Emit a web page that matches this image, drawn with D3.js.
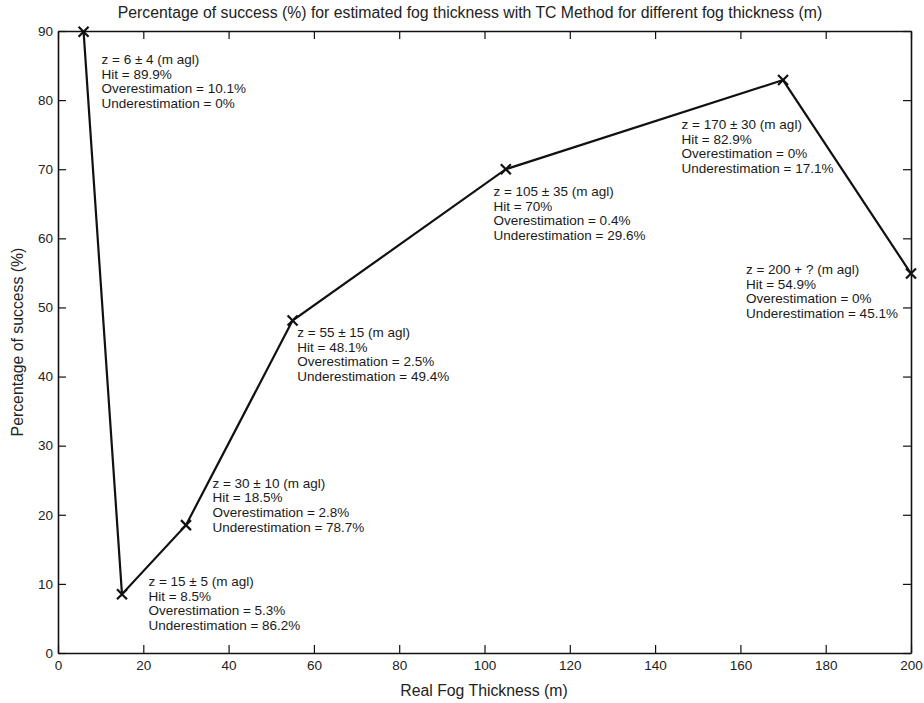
<!DOCTYPE html>
<html><head><meta charset="utf-8">
<script src="https://cdn.jsdelivr.net/npm/d3@7"></script>
<style>body{margin:0;background:#fff}svg{display:block;font-family:"Liberation Sans",Arial,sans-serif}</style>
</head><body><svg id="c" width="924" height="703"></svg>
<script>
const thickness = [6, 15, 30, 55, 105, 170, 200];
const success = [89.9, 8.5, 18.5, 48.1, 70, 82.9, 54.9];
const zLabels = ["z = 6 \u00b1 4 (m agl)", "z = 15 \u00b1 5 (m agl)", "z = 30 \u00b1 10 (m agl)", "z = 55 \u00b1 15 (m agl)", "z = 105 \u00b1 35 (m agl)", "z = 170 \u00b1 30 (m agl)", "z = 200 + ? (m agl)"];
const hit = ["89.9%", "8.5%", "18.5%", "48.1%", "70%", "82.9%", "54.9%"];
const over = ["10.1%", "5.3%", "2.8%", "2.5%", "0.4%", "0%", "0%"];
const under = ["0%", "86.2%", "78.7%", "49.4%", "29.6%", "17.1%", "45.1%"];
const labelX = [10.2, 21.2, 36.2, 56.1, 102.1, 146.2, 161.3];
const labelY = [85.2, 9.7, 23.9, 45.7, 66.1, 75.8, 54.8];
const xTicks = [0, 20, 40, 60, 80, 100, 120, 140, 160, 180, 200];
const yTicks = [0, 10, 20, 30, 40, 50, 60, 70, 80, 90];

const svg = d3.select("#c");
const L = 58, R = 911, T = 31, B = 653;
const x = d3.scaleLinear().domain([0, 200]).range([L, R]);
const y = d3.scaleLinear().domain([0, 90]).range([B, T]);
const tl = 8, col = "#111";

const gB = svg.append("g").attr("transform", `translate(0,${B})`)
  .call(d3.axisBottom(x).tickValues(xTicks).tickSizeInner(-tl).tickSizeOuter(0).tickPadding(5));
const gT = svg.append("g").attr("transform", `translate(0,${T})`)
  .call(d3.axisTop(x).tickValues(xTicks).tickSizeInner(-tl).tickSizeOuter(0).tickFormat(""));
const gL = svg.append("g").attr("transform", `translate(${L},0)`)
  .call(d3.axisLeft(y).tickValues(yTicks).tickSizeInner(-tl).tickSizeOuter(0).tickPadding(5));
const gR = svg.append("g").attr("transform", `translate(${R},0)`)
  .call(d3.axisRight(y).tickValues(yTicks).tickSizeInner(-tl).tickSizeOuter(0).tickFormat(""));
[gB, gT, gL, gR].forEach(g => {
  g.select(".domain").attr("stroke", col).attr("stroke-width", 1.6);
  g.selectAll(".tick line").attr("stroke", col).attr("stroke-width", 1.2);
  g.selectAll(".tick text").attr("fill", "#222").style("font-size", "13.5px").style("font-family", "Liberation Sans, Arial, sans-serif");
});
gB.selectAll(".tick text").attr("dy", "0.9em");

svg.append("path").datum(thickness.map((d, i) => [d, success[i]]))
  .attr("fill", "none").attr("stroke", col).attr("stroke-width", 2.2)
  .attr("d", d3.line().x(d => x(d[0])).y(d => y(d[1])));

const s = 5;
svg.append("g").selectAll("path").data(thickness.map((d, i) => [d, success[i]])).join("path")
  .attr("d", d => { const cx = x(d[0]), cy = y(d[1]); return `M${cx-s},${cy-s}L${cx+s},${cy+s}M${cx-s},${cy+s}L${cx+s},${cy-s}`; })
  .attr("stroke", col).attr("stroke-width", 2.2).attr("fill", "none");

const ann = svg.append("g").style("font-size", "13.5px").attr("fill", "#1a1a1a");
zLabels.forEach((z, i) => {
  const t = ann.append("text").attr("x", x(labelX[i])).attr("y", y(labelY[i]));
  [z, "Hit = " + hit[i], "Overestimation = " + over[i], "Underestimation = " + under[i]].forEach((line, j) => {
    t.append("tspan").attr("x", x(labelX[i])).attr("dy", j === 0 ? 0 : 14.6).text(line);
  });
});

svg.append("text").attr("x", 470).attr("y", 18).attr("text-anchor", "middle")
  .style("font-size", "15.8px").attr("fill", "#222")
  .text("Percentage of success (%) for estimated fog thickness with TC Method for different fog thickness (m)");
svg.append("text").attr("x", 484).attr("y", 696).attr("text-anchor", "middle")
  .style("font-size", "15.8px").attr("fill", "#222").text("Real Fog Thickness (m)");
svg.append("text").attr("transform", `translate(23,${(T + B) / 2}) rotate(-90)`).attr("text-anchor", "middle")
  .style("font-size", "15.8px").attr("fill", "#222").text("Percentage of success (%)");
</script></body></html>
